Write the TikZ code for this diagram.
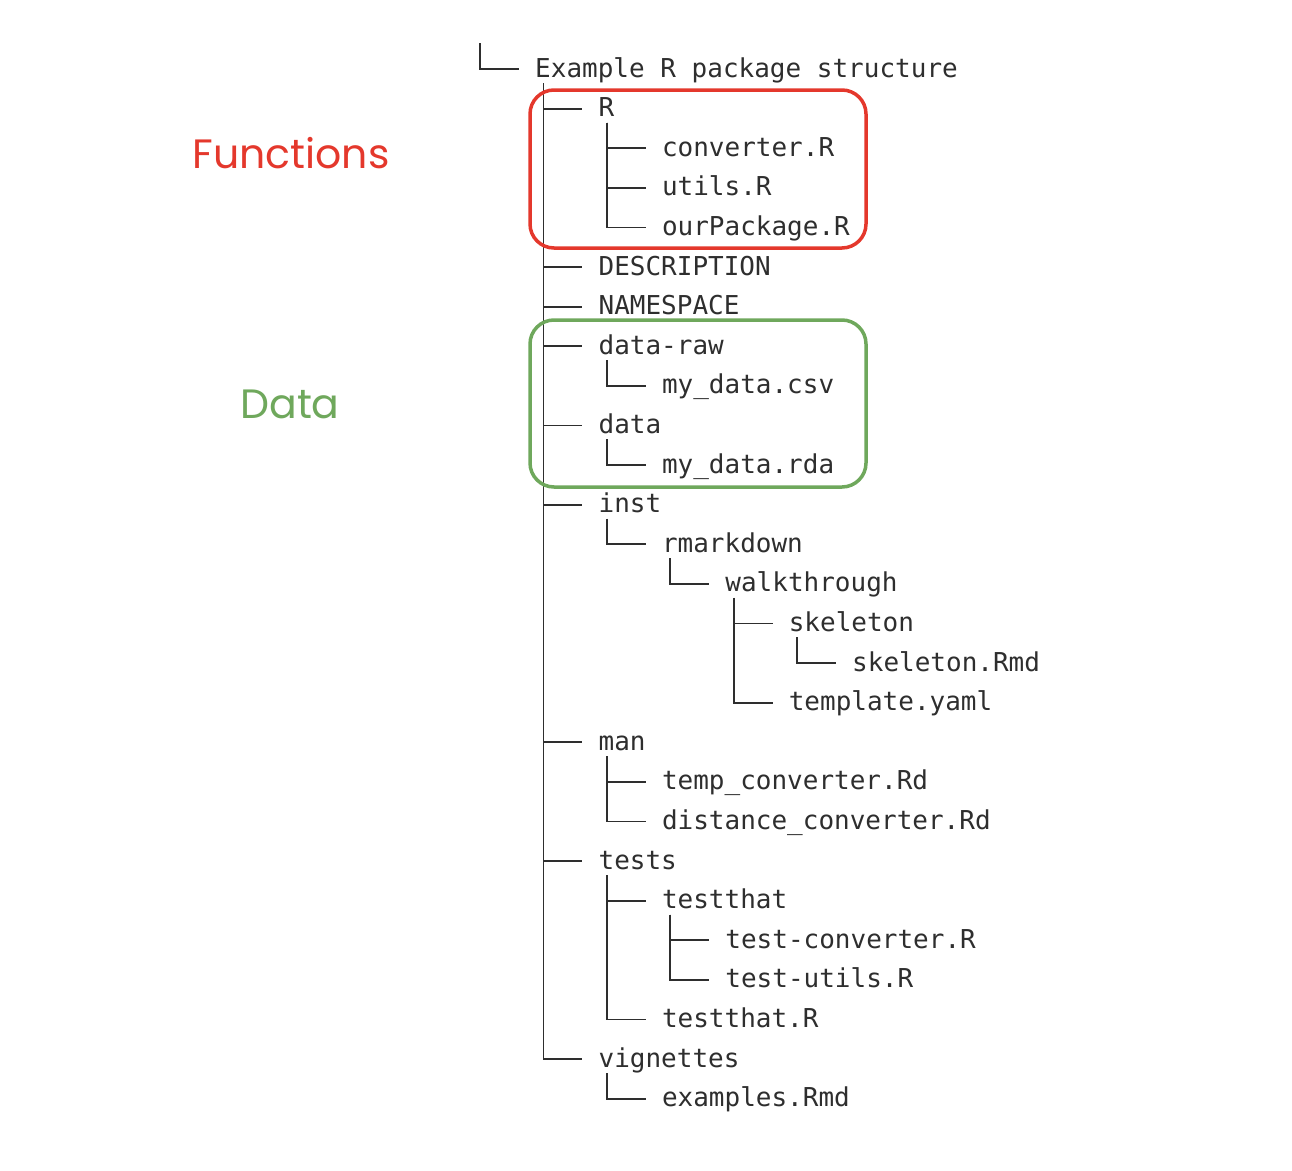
\documentclass[tikz,border=0pt]{standalone}
\usepackage{fontspec}
\newfontfamily\monof{DejaVu Sans Mono}
\newfontfamily\labf{Poppins}
\definecolor{ink}{HTML}{2E2E2E}
\definecolor{fred}{HTML}{E4382C}
\definecolor{dgreen}{HTML}{6FA85C}
\begin{document}
\begin{tikzpicture}[x=1pt,y=-1pt,
  entry/.style={anchor=base west,inner sep=0pt,font=\monof\fontsize{26}{26}\selectfont,text=ink},
  branch/.style={draw=ink,line width=1.8pt},
  grp/.style={draw,line width=3.5pt,rounded corners=24pt},
  lab/.style={font=\labf\fontsize{41}{41}\selectfont}]
\useasboundingbox (0,0) rectangle (1292,1170);
\foreach \i/\d/\p/\t in {0/0/-1/Example R package structure/,1/1/0/R/,2/2/1/converter.R,3/2/1/utils.R,4/2/1/ourPackage.R,5/1/0/DESCRIPTION,6/1/0/NAMESPACE,7/1/0/data-raw/,8/2/7/my\_data.csv,9/1/0/data/,10/2/9/my\_data.rda,11/1/0/inst/,12/2/11/rmarkdown/,13/3/12/walkthrough/,14/4/13/skeleton/,15/5/14/skeleton.Rmd,16/4/13/template.yaml,17/1/0/man/,18/2/17/temp\_converter.Rd,19/2/17/distance\_converter.Rd,20/1/0/tests/,21/2/20/testthat/,22/3/21/test-converter.R,23/3/21/test-utils.R,24/2/20/testthat.R,25/1/0/vignettes/,26/2/25/examples.Rmd}{
  \pgfmathsetmacro{\yy}{69+39.6*\i}
  \pgfmathsetmacro{\yp}{69+39.6*\p+14}
  \pgfmathsetmacro{\xx}{535+63.4*\d}
  \node[entry] (n\i) at (\xx,\yy+8) {\t};
  \coordinate (p\i) at (\xx-55,\yp);
  \coordinate (c\i) at (\xx-16,\yy);
  \draw[branch] (p\i) |- (c\i);
}
\node[grp,draw=fred,minimum width=336pt,minimum height=158pt] (fbox) at (698,169) {};
\node[grp,draw=dgreen,minimum width=336pt,minimum height=167pt] (dbox) at (698,403.5) {};
\node[lab,text=fred] (flab) at (291,153) {Functions};
\node[lab,text=dgreen] (dlab) at (290,404) {Data};
\end{tikzpicture}
\end{document}
